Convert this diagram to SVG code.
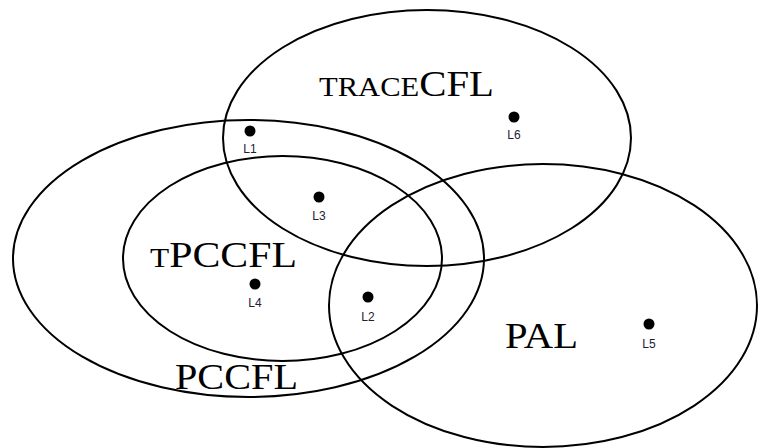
<svg xmlns="http://www.w3.org/2000/svg" width="758" height="448" viewBox="0 0 758 448">
  <style>
    .set { fill: none; stroke: #000; stroke-width: 2; }
    .name { font-family: "Liberation Serif", "Times New Roman", serif; font-size: 36px; fill: #000; }
    .sc { font-size: 27px; }
    .pt { fill: #000; }
    .lbl { font-family: "Liberation Sans", Arial, sans-serif; font-size: 12px; fill: #1c2033; text-anchor: middle; }
  </style>
  <rect width="758" height="448" fill="#fff"/>

  <!-- language classes -->
  <g id="set-tracecfl">
    <ellipse class="set" cx="427" cy="138" rx="204" ry="128"/>
    <text class="name" x="319" y="96" textLength="175" lengthAdjust="spacingAndGlyphs"><tspan class="sc">TRACE</tspan>CFL</text>
  </g>
  <g id="set-pccfl">
    <ellipse class="set" cx="248.5" cy="258.5" rx="235.5" ry="138.5"/>
    <text class="name" x="175" y="389" textLength="123" lengthAdjust="spacingAndGlyphs">PCCFL</text>
  </g>
  <g id="set-tpccfl">
    <ellipse class="set" cx="282.5" cy="258.5" rx="159.5" ry="102.5"/>
    <text class="name" x="150" y="267" textLength="147" lengthAdjust="spacingAndGlyphs"><tspan class="sc">T</tspan>PCCFL</text>
  </g>
  <g id="set-pal">
    <ellipse class="set" cx="543" cy="305.5" rx="214" ry="141.5"/>
    <text class="name" x="505" y="348" textLength="73" lengthAdjust="spacingAndGlyphs">PAL</text>
  </g>

  <!-- sample languages -->
  <g id="lang-l1"><circle class="pt" cx="250" cy="131" r="5.5"/><text class="lbl" x="250" y="153">L1</text></g>
  <g id="lang-l2"><circle class="pt" cx="368" cy="297" r="5.5"/><text class="lbl" x="368" y="321">L2</text></g>
  <g id="lang-l3"><circle class="pt" cx="319" cy="197" r="5.5"/><text class="lbl" x="319" y="220">L3</text></g>
  <g id="lang-l4"><circle class="pt" cx="255" cy="284" r="5.5"/><text class="lbl" x="255" y="307">L4</text></g>
  <g id="lang-l5"><circle class="pt" cx="649" cy="324" r="5.5"/><text class="lbl" x="649" y="348">L5</text></g>
  <g id="lang-l6"><circle class="pt" cx="514" cy="117" r="5.5"/><text class="lbl" x="514" y="139">L6</text></g>

  <g id="connectors"/>
</svg>
